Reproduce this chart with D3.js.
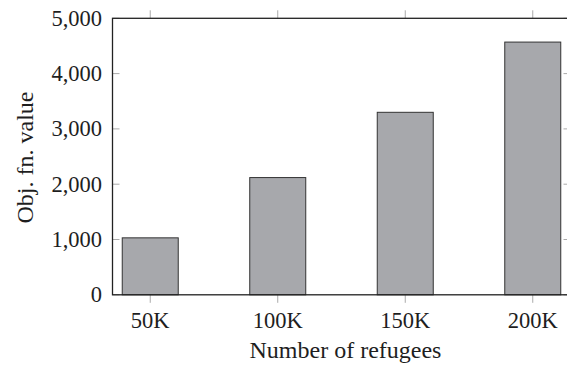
<!DOCTYPE html>
<html>
<head>
<meta charset="utf-8">
<script src="https://cdn.jsdelivr.net/npm/d3@7"></script>
<style>
  body { margin: 0; background: #fff; }
</style>
</head>
<body>
<svg id="chart" width="567" height="367"></svg>
<script>
// Objective function value for each refugee population size
const categories = ["50K", "100K", "150K", "200K"];
const values = [1030, 2120, 3300, 4570];
const yTicks = [0, 1000, 2000, 3000, 4000, 5000];

const FONT = "'Liberation Serif', 'DejaVu Serif', 'Times New Roman', serif";
const svg = d3.select("#chart")
  .attr("font-family", FONT);
const plotL = 112.5, plotR = 570.5, plotT = 18.3, plotB = 294.8;

const x = d3.scalePoint().domain(categories).range([plotL, plotR]).padding(0.296);
const y = d3.scaleLinear().domain([0, 5000]).range([plotB, plotT]);
const barW = 56;
const fmt = d3.format(",");

// tick marks (gray)
const tickColor = "#aaa";
const g = svg.append("g");
yTicks.forEach(t => {
  g.append("line").attr("x1", plotL).attr("x2", plotL + 7)
    .attr("y1", y(t)).attr("y2", y(t)).attr("stroke", tickColor).attr("stroke-width", 1);
  g.append("line").attr("x1", plotR - 7).attr("x2", plotR)
    .attr("y1", y(t)).attr("y2", y(t)).attr("stroke", tickColor).attr("stroke-width", 1);
});
categories.forEach(c => {
  g.append("line").attr("x1", x(c)).attr("x2", x(c))
    .attr("y1", plotB).attr("y2", plotB + 8).attr("stroke", tickColor).attr("stroke-width", 1);
  g.append("line").attr("x1", x(c)).attr("x2", x(c))
    .attr("y1", plotT - 8).attr("y2", plotT).attr("stroke", tickColor).attr("stroke-width", 1);
});

// bars
svg.append("g").selectAll("rect").data(values).join("rect")
  .attr("x", (d, i) => x(categories[i]) - barW / 2)
  .attr("width", barW)
  .attr("y", d => y(d))
  .attr("height", d => y(0) - y(d))
  .attr("fill", "#a7a8ac")
  .attr("stroke", "#333")
  .attr("stroke-width", 1);

// frame
svg.append("rect").attr("x", plotL).attr("y", plotT)
  .attr("width", plotR - plotL).attr("height", plotB - plotT)
  .attr("fill", "none").attr("stroke", "#222").attr("stroke-width", 1.3);

const textColor = "#1e1e1e";

// y tick labels
svg.append("g").selectAll("text").data(yTicks).join("text")
  .attr("x", 102).attr("y", d => y(d) + 7.5)
  .attr("text-anchor", "end").attr("font-size", 22.5).attr("fill", textColor)
  .text(d => fmt(d));

// x tick labels
svg.append("g").selectAll("text").data(categories).join("text")
  .attr("x", d => x(d)).attr("y", 328)
  .attr("text-anchor", "middle").attr("font-size", 22.5).attr("fill", textColor)
  .text(d => d);

// axis titles
svg.append("text").attr("x", 345.5).attr("y", 358)
  .attr("text-anchor", "middle").attr("font-size", 24).attr("fill", textColor)
  .text("Number of refugees");
svg.append("text")
  .attr("transform", "translate(33,157.5) rotate(-90)")
  .attr("text-anchor", "middle").attr("font-size", 24).attr("fill", textColor)
  .text("Obj. fn. value");
</script>
</body>
</html>
